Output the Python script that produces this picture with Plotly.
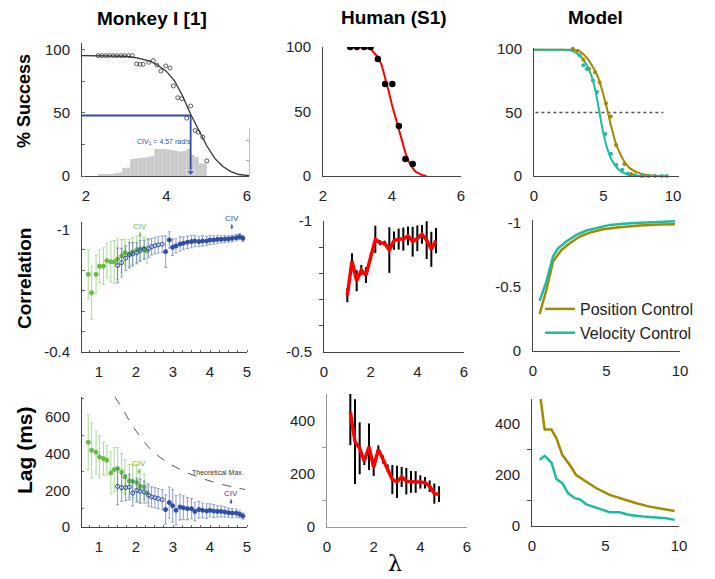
import plotly.graph_objects as go

W, H = 715, 579


def dx(a, b):
    return [a / W, b / W]


def dy(top, bottom):
    return [1 - bottom / H, 1 - top / H]


def px(x):
    return x / W


def py(y):
    return 1 - y / H


# ------------------------------------------------------------------ data
# Row 1 - Monkey I success
mk_succ_x = [2.30, 2.39, 2.49, 2.58, 2.68, 2.77, 2.87, 2.96, 3.06, 3.15,
             3.26, 3.34, 3.42, 3.56, 3.67, 3.76, 3.86, 3.98, 4.09, 4.17,
             4.28, 4.38, 4.50, 4.60, 4.71, 4.79, 4.90, 5.00]
mk_succ_y = [95.5, 95.5, 95.5, 95.5, 95.5, 95.5, 95.5, 95.5, 95.5, 95.5,
             88.9, 88.6, 88.6, 90.2, 91.5, 88.0, 83.3, 87.3, 85.7, 71.4,
             62.1, 61.3, 45.9, 55.5, 36.1, 34.8, 30.8, 12.0]
mk_fit_x = [1.9, 2.5, 3.0, 3.3, 3.6, 3.8, 4.0, 4.2, 4.4, 4.6, 4.8, 5.0,
            5.2, 5.4, 5.6, 5.8, 6.05]
mk_fit_y = [95.5, 95.5, 95.0, 93.5, 91.0, 87.5, 83.0, 75.5, 63.5, 49.0,
            36.0, 24.0, 14.0, 7.5, 3.5, 1.2, 0.3]
mk_hist_x = [2.35, 2.45, 2.55, 2.65, 2.75, 2.85, 2.95, 3.05, 3.15, 3.25,
             3.35, 3.45, 3.55, 3.65, 3.75, 3.85, 3.95, 4.05, 4.15, 4.25,
             4.35, 4.45, 4.55, 4.65, 4.75, 4.85, 4.95]
mk_hist_y = [1.2, 1.2, 1.2, 1.6, 2.4, 2.8, 6.3, 6.7, 13.5, 13.9,
             14.3, 14.7, 15.1, 15.9, 21.4, 21.4, 21.4, 21.0, 20.6, 19.8,
             19.4, 19.8, 21.4, 16.7, 15.1, 9.9, 9.9]
mk_civ = 4.6
mk_thresh = 48

# Row 1 - Human success
hu_succ_x = [2.79, 2.98, 3.19, 3.38, 3.59, 3.80, 4.01, 4.20, 4.39, 4.60]
hu_succ_y = [100, 100, 100, 100, 90.7, 71.3, 71.3, 38.8, 13.2, 9.3]
hu_fit_x = [2.8, 3.0, 3.2, 3.4, 3.6, 3.7, 3.8, 3.9, 4.0, 4.1, 4.2, 4.3,
            4.4, 4.5, 4.6, 4.7, 4.8, 4.9, 5.0]
hu_fit_y = [100, 100, 99.5, 98, 92, 86, 77, 66, 55, 45, 35, 25, 17, 10.5,
            6, 3, 1.5, 0.5, 0]

# Row 1 - Model success
pos_fit_x = [0, 1.0, 2.0, 2.83, 3.3, 3.79, 4.27, 4.63, 4.99, 5.3, 5.59,
             5.95, 6.43, 6.91, 7.63, 8.58, 9.5]
pos_fit_y = [99.2, 99.2, 99.2, 99.2, 98, 93, 85, 77, 63.8, 50.6, 37.5,
             23.6, 12.6, 6, 2.1, 0.3, 0]
vel_fit_x = [0, 1.0, 2.11, 2.83, 3.3, 3.79, 4.15, 4.46, 4.7, 4.94, 5.23,
             5.59, 6.07, 6.67, 7.63, 9.5]
vel_fit_y = [99.2, 99.2, 99.2, 98, 94.5, 87.4, 78.2, 65, 50.6, 36.2, 23,
             12.6, 5.3, 1.3, 0, 0]
pos_pts_x = [2.8, 3.14, 3.55, 3.96, 4.39, 4.72, 5.18, 5.52, 5.9, 6.5,
             6.98, 7.8]
pos_pts_y = [100, 98.4, 91.3, 84.3, 81.6, 73.5, 57.2, 46.7, 24.4, 9.4,
             1.5, 0.3]
vel_pts_x = [0.43, 0.84, 1.22, 1.63, 2.04, 2.42, 2.83, 3.29, 3.55, 3.8,
             4.24, 4.53, 5.13, 5.54, 5.92, 6.35, 6.75, 7.26, 7.75, 8.22,
             8.71, 9.19, 9.55]
vel_pts_y = [101, 101, 101, 101, 101, 101, 101, 95, 87, 84, 75, 66, 33,
             17.5, 8.7, 5, 2, 0.8, 0, 0, 0, 0, 0]
model_thresh = 50
model_thresh_x = [0.1, 9.3]

# Row 2 - Monkey correlation
mk_g_x = [0.71, 0.80, 0.92, 1.01, 1.12, 1.21, 1.32, 1.41, 1.50, 1.61,
          1.70, 1.82, 1.91, 2.02, 2.11, 2.22, 2.30]
mk_g_corr = [-0.78, -0.69, -0.78, -0.82, -0.82, -0.847, -0.842, -0.84,
             -0.854, -0.87, -0.886, -0.88, -0.89, -0.90, -0.904, -0.907,
             -0.894]
mk_g_corr_err = [0.12, 0.13, 0.094, 0.08, 0.09, 0.085, 0.10, 0.105, 0.10,
                 0.08, 0.065, 0.07, 0.07, 0.07, 0.06, 0.055, 0.06]
mk_bo_x = [1.50, 1.61, 1.72, 1.82, 1.91, 2.02, 2.11, 2.22, 2.34, 2.42,
           2.51, 2.60, 2.71]
mk_bo_corr = [-0.823, -0.837, -0.859, -0.875, -0.880, -0.886, -0.896,
              -0.902, -0.907, -0.915, -0.920, -0.924, -0.927]
mk_bo_corr_err = [0.085, 0.07, 0.06, 0.06, 0.055, 0.05, 0.05, 0.045,
                  0.045, 0.04, 0.04, 0.04, 0.04]
mk_bf_x = [2.80, 2.90, 2.99, 3.08, 3.19, 3.28, 3.39, 3.50, 3.59, 3.70,
           3.80, 3.91, 4.00, 4.10, 4.20, 4.30, 4.40, 4.50, 4.60, 4.71,
           4.80, 4.89]
mk_bf_corr = [-0.891, -0.948, -0.912, -0.919, -0.928, -0.932, -0.937,
              -0.940, -0.943, -0.940, -0.943, -0.943, -0.948, -0.948,
              -0.951, -0.951, -0.953, -0.953, -0.956, -0.959, -0.964,
              -0.956]
mk_bf_corr_err = [0.077, 0.04, 0.04, 0.035, 0.035, 0.03, 0.03, 0.03,
                  0.028, 0.025, 0.025, 0.022, 0.022, 0.02, 0.02, 0.018,
                  0.018, 0.016, 0.016, 0.015, 0.015, 0.015]

# Row 3 - Monkey lag
mk_g_lag = [462, 418, 407, 382, 373, 364, 295, 313, 318, 300, 273, 251,
            249, 242, 222, 218, 185]
mk_g_lag_err = [150, 150, 118, 115, 90, 80, 115, 120, 115, 100, 95, 90,
                90, 100, 90, 70, 55]
mk_bo_lag = [222, 215, 215, 218, 185, 200, 195, 191, 173, 164, 160, 155,
             149]
mk_bo_lag_err = [100, 75, 70, 70, 70, 65, 65, 60, 60, 55, 55, 55, 55]
mk_bf_lag = [95, 133, 116, 91, 109, 105, 100, 100, 85, 95, 91, 87, 91,
             87, 85, 85, 82, 78, 76, 76, 69, 60]
mk_bf_lag_err = [80, 85, 90, 80, 70, 65, 60, 55, 50, 45, 40, 40, 35, 35,
                 30, 30, 28, 25, 25, 22, 20, 18]
theo_max_x = [1.43, 1.66, 1.93, 2.38, 2.83, 3.28, 3.73, 4.18, 4.63, 4.95]
theo_max_y = [709, 636, 545, 427, 355, 305, 269, 240, 218, 204]

# Rows 2/3 - Human
hu_x = [1.0, 1.2, 1.4, 1.6, 1.8, 2.0, 2.2, 2.4, 2.6, 2.8, 3.0, 3.2, 3.4,
        3.6, 3.8, 4.0, 4.2, 4.4, 4.6, 4.8]
hu_corr = [-0.717, -0.847, -0.772, -0.8125, -0.793, -0.8635, -0.93,
           -0.917, -0.915, -0.889, -0.925, -0.931, -0.931, -0.943, -0.921,
           -0.934, -0.949, -0.927, -0.892, -0.925]
hu_corr_err = [0.027, 0.03, 0.04, 0.02, 0.03, 0.01, 0.052, 0.01, 0.01,
               0.087, 0.035, 0.04, 0.044, 0.036, 0.057, 0.049, 0.036,
               0.072, 0.067, 0.048]
hu_lag = [435, 322, 297, 249, 303, 225, 293, 255, 221, 179, 170, 189,
          173, 170, 170, 170, 167, 154, 126, 124]
hu_lag_err = [126, 160, 98, 15, 88, 32, 15, 15, 15, 55, 61, 38, 50, 41,
              41, 25, 22, 22, 38, 30]

# Rows 2/3 - Model
pos_corr_x = [0.45, 0.91, 1.36, 1.93, 2.5, 3.18, 3.86, 4.77, 5.9, 7.27,
              8.64, 9.66]
pos_corr = [-0.288, -0.475, -0.696, -0.787, -0.839, -0.891, -0.922,
            -0.948, -0.964, -0.977, -0.984, -0.987]
vel_corr_x = [0.45, 0.91, 1.36, 1.7, 2.27, 2.95, 3.64, 4.32, 5.23, 6.59,
              8.18, 9.66]
vel_corr = [-0.39, -0.54, -0.735, -0.8, -0.852, -0.904, -0.938, -0.956,
            -0.982, -0.995, -1.003, -1.01]
pos_lag_x = [0.59, 0.86, 1.32, 1.66, 2.06, 2.56, 3.0, 3.68, 4.38, 5.28,
             6.19, 7.1, 8.0, 8.9, 9.7]
pos_lag = [498, 378, 378, 345, 279, 240, 200, 175, 148, 122, 105, 89, 76,
           66, 59]
vel_lag_x = [0.52, 0.86, 1.32, 1.66, 2.06, 2.45, 2.9, 3.24, 3.7, 4.38,
             5.28, 5.96, 6.64, 7.55, 8.46, 9.14, 9.7]
vel_lag = [260, 275, 249, 184, 168, 129, 109, 105, 85, 72, 54, 54, 43,
           37, 34, 30, 24]

# ------------------------------------------------------------------ styles
OLIVE = "#a38800"
TEAL = "#1dbb9f"
RED = "#ff0000"
GREEN = "#66bb44"
GREEN_E = "rgba(102,187,68,0.5)"
BLUE = "#2f4ea3"
BLUE_E = "rgba(47,78,163,0.5)"
FONT = "Arial, Liberation Sans, sans-serif"

fig = go.Figure()


def ref(k):
    return ("x" if k == 1 else f"x{k}"), ("y" if k == 1 else f"y{k}")


def add(k, tr):
    xa, ya = ref(k)
    tr.update(xaxis=xa, yaxis=ya)
    fig.add_trace(tr)


# --- subplot 1: monkey success
add(1, go.Bar(x=mk_hist_x, y=mk_hist_y, width=0.1, marker_color="#c9c9c9",
              marker_line_width=0, showlegend=False))
add(1, go.Scatter(x=mk_fit_x, y=mk_fit_y, mode="lines",
                  line=dict(color="#333333", width=1.3), showlegend=False))
add(1, go.Scatter(x=mk_succ_x, y=mk_succ_y, mode="markers",
                  marker=dict(symbol="circle-open", size=4, color="#333333",
                              line=dict(width=0.8)), showlegend=False))
add(1, go.Scatter(x=[mk_fit_x[0], mk_civ, mk_civ],
                  y=[mk_thresh, mk_thresh, 3],
                  mode="lines+markers", line=dict(color=BLUE, width=1.8),
                  marker=dict(symbol=["circle", "circle", "triangle-down"],
                              size=[0, 0, 8], color=BLUE),
                  showlegend=False))
fig.add_trace(go.Scatter(x=[], y=[], xaxis="x", yaxis="y10", showlegend=False))

# --- subplot 2: human success
add(2, go.Scatter(x=hu_fit_x, y=hu_fit_y, mode="lines",
                  line=dict(color=RED, width=2), showlegend=False))
add(2, go.Scatter(x=hu_succ_x, y=hu_succ_y, mode="markers",
                  marker=dict(size=6.5, color="black"), showlegend=False))

# --- subplot 3: model success
add(3, go.Scatter(x=model_thresh_x, y=[model_thresh, model_thresh],
                  mode="lines", line=dict(color="#555555", width=1.5,
                                          dash="dot"), showlegend=False))
add(3, go.Scatter(x=pos_fit_x, y=pos_fit_y, mode="lines",
                  line=dict(color=OLIVE, width=2, shape="spline"),
                  showlegend=False))
add(3, go.Scatter(x=vel_fit_x, y=vel_fit_y, mode="lines",
                  line=dict(color=TEAL, width=2, shape="spline"),
                  showlegend=False))
add(3, go.Scatter(x=pos_pts_x, y=pos_pts_y, mode="markers",
                  marker=dict(size=4, color=OLIVE), showlegend=False,
                  cliponaxis=False))
add(3, go.Scatter(x=vel_pts_x, y=vel_pts_y, mode="markers",
                  marker=dict(size=4, color=TEAL), showlegend=False,
                  cliponaxis=False))


# --- subplots 4 & 7: monkey corr / lag
def monkey_err(k, x, y, err, color, ecolor, symbol):
    add(k, go.Scatter(
        x=x, y=y, mode="markers",
        marker=dict(size=4, color=color, symbol=symbol,
                    line=dict(color=color, width=1)),
        error_y=dict(type="data", array=err, color=ecolor, thickness=1.1,
                     width=1.5),
        showlegend=False))


monkey_err(4, mk_g_x, mk_g_corr, mk_g_corr_err, GREEN, GREEN_E, "circle")
monkey_err(4, mk_bo_x, mk_bo_corr, mk_bo_corr_err, BLUE, BLUE_E,
           "circle-open")
monkey_err(4, mk_bf_x, mk_bf_corr, mk_bf_corr_err, BLUE, BLUE_E, "circle")

add(7, go.Scatter(x=theo_max_x, y=theo_max_y, mode="lines",
                  line=dict(color="#555555", width=1, dash="dash",
                            shape="spline"), showlegend=False))
monkey_err(7, mk_g_x, mk_g_lag, mk_g_lag_err, GREEN, GREEN_E, "circle")
monkey_err(7, mk_bo_x, mk_bo_lag, mk_bo_lag_err, BLUE, BLUE_E,
           "circle-open")
monkey_err(7, mk_bf_x, mk_bf_lag, mk_bf_lag_err, BLUE, BLUE_E, "circle")


# --- subplots 5 & 8: human corr / lag
def human(k, y, err):
    add(k, go.Scatter(x=hu_x, y=y, mode="markers",
                      marker=dict(size=1, color="black"),
                      error_y=dict(type="data", array=err, color="black",
                                   thickness=2, width=0),
                      showlegend=False))
    add(k, go.Scatter(x=hu_x, y=y, mode="lines",
                      line=dict(color=RED, width=3.5), showlegend=False))


human(5, hu_corr, hu_corr_err)
human(8, hu_lag, hu_lag_err)

# --- subplots 6 & 9: model corr / lag
add(6, go.Scatter(x=pos_corr_x, y=pos_corr, mode="lines",
                  line=dict(color=OLIVE, width=2.5), name="Position Control"))
add(6, go.Scatter(x=vel_corr_x, y=vel_corr, mode="lines",
                  line=dict(color=TEAL, width=2.5), name="Velocity Control"))
add(9, go.Scatter(x=pos_lag_x, y=pos_lag, mode="lines",
                  line=dict(color=OLIVE, width=2.5), showlegend=False))
add(9, go.Scatter(x=vel_lag_x, y=vel_lag, mode="lines",
                  line=dict(color=TEAL, width=2.5), showlegend=False))

# ------------------------------------------------------------------ axes
TICKFONT = dict(family=FONT, size=15, color="#222222")


def xaxis(dom, rng, vals, anchor, lc="#444444", minor=None):
    d = dict(domain=dom, range=rng, anchor=anchor, showline=True,
             linecolor=lc, linewidth=1, showgrid=False, zeroline=False,
             tickvals=vals, ticks="", ticklabelstandoff=6,
             tickfont=TICKFONT, fixedrange=True, automargin=False)
    if minor:
        d["minor"] = minor
    return d


def yaxis(dom, rng, vals, anchor, text=None, lc="#444444", minor=None):
    d = dict(domain=dom, range=rng, anchor=anchor, showline=True,
             linecolor=lc, linewidth=1, showgrid=False, zeroline=False,
             tickvals=vals, ticks="", ticklabelstandoff=8,
             tickfont=TICKFONT, fixedrange=True, automargin=False)
    if text:
        d["ticktext"] = text
    if minor:
        d["minor"] = minor
    return d


minor_in_x = dict(dtick=0.25, ticks="inside", ticklen=2, tickcolor="#666")
lay = {}
# row 1
lay["xaxis"] = xaxis(dx(82, 249), [1.9, 6.05], [2, 4, 6], "y")
lay["yaxis"] = yaxis(dy(43, 176), [0, 105.5], [0, 50, 100], "x",
                     minor=dict(dtick=25, ticks="inside", ticklen=3,
                                tickcolor="#666"))
lay["xaxis2"] = xaxis(dx(323, 461), [2, 6], [2, 4, 6], "y2")
lay["yaxis2"] = yaxis(dy(47, 176), [0, 100], [0, 50, 100], "x2")
lay["xaxis3"] = xaxis(dx(534, 679), [0, 10.43], [0, 5, 10], "y3")
lay["yaxis3"] = yaxis(dy(48, 176), [0, 100.6], [0, 50, 100], "x3")
# row 2
lay["xaxis4"] = xaxis(dx(82, 247), [0.54, 5.0], [1, 2, 3, 4, 5], "y4",
                      minor=minor_in_x)
lay["yaxis4"] = yaxis(dy(222, 352), [-0.4, -1.036], [-1, -0.4], "x4",
                      text=["-1", "-0.4"],
                      minor=dict(tickvals=[-0.9, -0.8, -0.7, -0.6, -0.5],
                                 ticks="inside", ticklen=3, tickcolor="#666"))
lay["xaxis5"] = xaxis(dx(324, 464), [0, 6], [0, 2, 4, 6], "y5")
lay["yaxis5"] = yaxis(dy(221, 352), [-0.5, -1.0], [-1, -0.5], "x5",
                      text=["-1", "-0.5"],
                      minor=dict(tickvals=[-0.9, -0.8, -0.7, -0.6],
                                 ticks="outside", ticklen=4,
                                 tickcolor="#444"))
lay["xaxis6"] = xaxis(dx(533, 680), [0, 10], [0, 5, 10], "y6")
lay["yaxis6"] = yaxis(dy(220, 351), [0, -1.02], [-1, -0.5, 0], "x6",
                      text=["-1", "-0.5", "0"])
# row 3
lay["xaxis7"] = xaxis(dx(82, 247), [0.54, 5.0], [1, 2, 3, 4, 5], "y7",
                      minor=minor_in_x)
lay["yaxis7"] = yaxis(dy(397, 527), [0, 709], [0, 200, 400, 600], "x7",
                      minor=dict(tickvals=[100, 300, 500, 700],
                                 ticks="inside", ticklen=2, tickcolor="#666"))
lay["xaxis8"] = xaxis(dx(327, 467), [0, 6], [0, 2, 4, 6], "y8",
                      lc="#999999")
lay["yaxis8"] = yaxis(dy(394, 527), [0, 502], [0, 200, 400], "x8",
                      lc="#999999",
                      minor=dict(tickvals=[100, 300], ticks="outside",
                                 ticklen=4, tickcolor="#999"))
lay["xaxis9"] = xaxis(dx(532, 679), [0, 10], [0, 5, 10], "y9")
lay["yaxis9"] = yaxis(dy(399, 526), [0, 498], [0, 200, 400], "x9",
                      minor=dict(tickvals=[100, 300], ticks="outside",
                                 ticklen=4, tickcolor="#444"))
lay["yaxis10"] = dict(domain=dy(128, 176), range=[0, 48], anchor="x",
                      side="right", showline=True, linecolor="#bdbdbd",
                      showgrid=False, zeroline=False, tickvals=[16, 36],
                      ticks="inside", ticklen=3, tickcolor="#aaaaaa",
                      showticklabels=False, fixedrange=True)

# ------------------------------------------------------------------ annotations
ann = []


def txt(x, y, s, size, bold=False, angle=0, family=FONT, color="black",
        xref="paper", yref="paper", xanchor="center", yanchor="middle"):
    ann.append(dict(x=x, y=y, xref=xref, yref=yref, text=s, showarrow=False,
                    textangle=angle, xanchor=xanchor, yanchor=yanchor,
                    font=dict(family=family, size=size, color=color,
                              weight="bold" if bold else "normal")))


txt(px(152), py(18), "Monkey I [1]", 19, bold=True)
txt(px(394), py(17), "Human (S1)", 19, bold=True)
txt(px(595), py(17), "Model", 19, bold=True)
txt(px(24), py(101), "% Success", 18, bold=True, angle=-90)
txt(px(25), py(279), "Correlation", 19, bold=True, angle=-90)
txt(px(24), py(450), "Lag (ms)", 21, bold=True, angle=-90)
txt(px(395), 0.001, "λ", 22, family="DejaVu Serif, Liberation Serif, serif",
    yanchor="bottom")
txt(3.93, 27, "CIV<sub>1</sub> = 4.57 rad/s", 7, color=BLUE, xref="x",
    yref="y")


def civ(k, x, ytext, ytip, color):
    xa, ya = ref(k)
    ann.append(dict(x=x, y=ytip, ax=x, ay=ytext, xref=xa, yref=ya,
                    axref=xa, ayref=ya, text="CIV", showarrow=True,
                    arrowhead=2, arrowsize=0.6, arrowwidth=1,
                    arrowcolor=color, font=dict(family=FONT, size=8,
                                                 color=color)))


civ(4, 2.11, -1.016, -0.962, GREEN)
civ(4, 4.59, -1.055, -1.0, BLUE)
civ(7, 2.08, 349, 289, GREEN)
civ(7, 4.57, 185, 125, BLUE)
txt(4.22, 296, "Theoretical Max.", 7, color="#333333", xref="x7", yref="y7")

fig.update_layout(
    width=W, height=H, margin=dict(l=0, r=0, t=0, b=0, autoexpand=False),
    paper_bgcolor="white", plot_bgcolor="rgba(0,0,0,0)",
    font=dict(family=FONT, color="#222222"),
    annotations=ann,
    showlegend=True,
    legend=dict(x=px(540), y=py(292), xanchor="left", yanchor="top",
                bgcolor="rgba(0,0,0,0)", font=dict(family=FONT, size=16,
                                                    color="#222222"),
                tracegroupgap=0, itemwidth=30),
    **lay,
)

fig.write_html("out.html", config={"displayModeBar": False},
               post_script="document.body.style.margin='0';"
                           "document.body.style.overflow='hidden';")
